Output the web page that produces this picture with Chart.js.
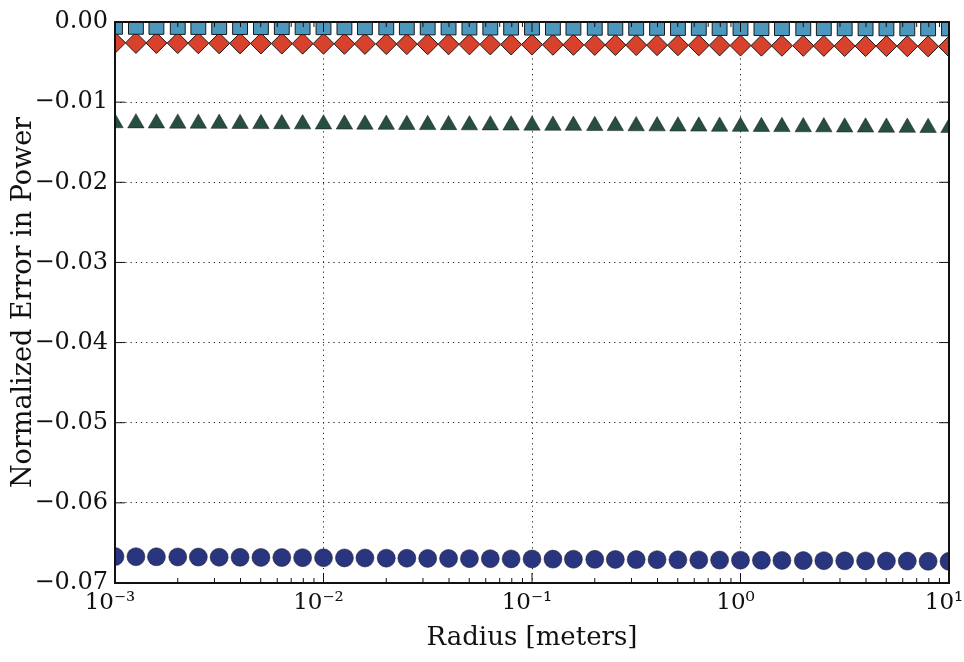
<!DOCTYPE html>
<html>
<head>
<meta charset="utf-8">
<script src="https://cdn.jsdelivr.net/npm/chart.js@4/dist/chart.umd.min.js"></script>
<style>
  html, body { margin: 0; padding: 0; background: #fff; overflow: hidden; }
  #wrap { width: 964px; height: 662px; position: relative; }
  canvas { display: block; }
</style>
</head>
<body>
<div id="wrap"><canvas id="err-chart"></canvas></div>
<script>
// radius in meters (10 points per decade)
const radius = [0.001,0.00126,0.00158,0.002,0.00251,0.00316,0.00398,0.00501,0.00631,0.00794,
  0.01,0.0126,0.0158,0.02,0.0251,0.0316,0.0398,0.0501,0.0631,0.0794,
  0.1,0.126,0.158,0.2,0.251,0.316,0.398,0.501,0.631,0.794,
  1,1.26,1.58,2,2.51,3.16,3.98,5.01,6.31,7.94,10];

const errSquares = [-0.00060,-0.00060,-0.00061,-0.00062,-0.00062,-0.00063,-0.00063,-0.00064,-0.00064,-0.00065,
  -0.00065,-0.00066,-0.00066,-0.00067,-0.00067,-0.00068,-0.00068,-0.00069,-0.00069,-0.00070,
  -0.00070,-0.00071,-0.00071,-0.00072,-0.00072,-0.00073,-0.00073,-0.00074,-0.00074,-0.00075,
  -0.00075,-0.00076,-0.00076,-0.00077,-0.00077,-0.00078,-0.00078,-0.00079,-0.00079,-0.00080,-0.00080];

const errDiamonds = [-0.00260,-0.00261,-0.00262,-0.00263,-0.00265,-0.00266,-0.00267,-0.00268,-0.00269,-0.00270,
  -0.00271,-0.00272,-0.00273,-0.00275,-0.00276,-0.00277,-0.00278,-0.00279,-0.00280,-0.00281,
  -0.00282,-0.00284,-0.00285,-0.00286,-0.00287,-0.00288,-0.00289,-0.00290,-0.00291,-0.00292,
  -0.00294,-0.00295,-0.00296,-0.00297,-0.00298,-0.00299,-0.00300,-0.00301,-0.00302,-0.00304,-0.00305];

const errTriangles = [-0.01260,-0.01262,-0.01263,-0.01265,-0.01266,-0.01268,-0.01269,-0.01271,-0.01272,-0.01274,
  -0.01275,-0.01277,-0.01278,-0.01280,-0.01281,-0.01283,-0.01284,-0.01286,-0.01287,-0.01289,
  -0.01290,-0.01292,-0.01293,-0.01295,-0.01296,-0.01298,-0.01299,-0.01301,-0.01302,-0.01304,
  -0.01305,-0.01307,-0.01308,-0.01310,-0.01311,-0.01313,-0.01314,-0.01316,-0.01317,-0.01319,-0.01320];

const errCircles = [-0.06670,-0.06672,-0.06673,-0.06675,-0.06676,-0.06678,-0.06679,-0.06681,-0.06682,-0.06684,
  -0.06685,-0.06687,-0.06688,-0.06690,-0.06691,-0.06693,-0.06694,-0.06696,-0.06697,-0.06699,
  -0.06700,-0.06702,-0.06703,-0.06705,-0.06706,-0.06708,-0.06709,-0.06711,-0.06712,-0.06714,
  -0.06715,-0.06717,-0.06718,-0.06720,-0.06721,-0.06723,-0.06724,-0.06726,-0.06727,-0.06729,-0.06730];

const xDecades = [0.001, 0.01, 0.1, 1, 10];
const xTickLabels = ["10\u207B\u00B3", "10\u207B\u00B2", "10\u207B\u00B9", "10\u2070", "10\u00B9"];
const yTicks = [0, -0.01, -0.02, -0.03, -0.04, -0.05, -0.06, -0.07];

const serif = "'DejaVu Serif', 'Liberation Serif', serif";

function pts(ys) {
  return radius.map((r, i) => ({ x: r, y: ys[i] }));
}

// inward ticks + frame, matplotlib style
const frameTicks = {
  id: 'frameTicks',
  afterDraw(chart) {
    const { ctx, chartArea: a, scales } = chart;
    const xs = scales.x, ys = scales.y;
    ctx.save();
    ctx.strokeStyle = '#111';
    ctx.lineWidth = 1;
    ctx.beginPath();
    xDecades.forEach((d, i) => {
      const px = xs.getPixelForValue(d);
      ctx.moveTo(px, a.bottom); ctx.lineTo(px, a.bottom - 10);
      ctx.moveTo(px, a.top); ctx.lineTo(px, a.top + 10);
      if (i < xDecades.length - 1) {
        for (let m = 2; m <= 9; m++) {
          const mx = xs.getPixelForValue(d * m);
          ctx.moveTo(mx, a.bottom); ctx.lineTo(mx, a.bottom - 5);
          ctx.moveTo(mx, a.top); ctx.lineTo(mx, a.top + 5);
        }
      }
    });
    yTicks.forEach(v => {
      const py = ys.getPixelForValue(v);
      ctx.moveTo(a.left, py); ctx.lineTo(a.left + 10, py);
      ctx.moveTo(a.right, py); ctx.lineTo(a.right - 10, py);
    });
    ctx.stroke();
    ctx.lineWidth = 2;
    ctx.strokeRect(a.left, a.top, a.right - a.left, a.bottom - a.top);
    ctx.restore();
  }
};

new Chart(document.getElementById('err-chart'), {
  type: 'scatter',
  data: {
    datasets: [
      {
        label: 'squares',
        data: pts(errSquares),
        pointStyle: 'rect',
        pointRadius: 10.5,
        backgroundColor: '#4b97bd',
        borderColor: '#1a1a1a',
        pointBorderWidth: 1
      },
      {
        label: 'diamonds',
        data: pts(errDiamonds),
        pointStyle: 'rectRot',
        pointRadius: 10.5,
        backgroundColor: '#d8412c',
        borderColor: '#1a1a1a',
        pointBorderWidth: 1
      },
      {
        label: 'triangles',
        data: pts(errTriangles),
        pointStyle: 'triangle',
        pointRadius: 9.5,
        backgroundColor: '#264f3f',
        borderColor: '#1a1a1a',
        pointBorderWidth: 0.5
      },
      {
        label: 'circles',
        data: pts(errCircles),
        pointStyle: 'circle',
        pointRadius: 9,
        backgroundColor: '#2a3580',
        borderColor: '#1a1a1a',
        pointBorderWidth: 0.5
      }
    ].map(d => Object.assign(d, { clip: 0, showLine: false, pointHoverRadius: d.pointRadius }))
  },
  options: {
    responsive: true,
    maintainAspectRatio: false,
    animation: false,
    layout: { autoPadding: false, padding: { top: 22, right: 15, left: 0, bottom: 0 } },
    plugins: { legend: { display: false }, tooltip: { enabled: false } },
    scales: {
      x: {
        type: 'logarithmic',
        min: 0.001,
        max: 10,
        afterBuildTicks: s => { s.ticks = xDecades.map(v => ({ value: v })); },
        afterFit: s => { s.height = 79; s.paddingLeft = 0; s.paddingRight = 0; },
        grid: { color: '#222', lineWidth: 1, drawTicks: false },
        border: { display: false, dash: [1.2, 4] },
        ticks: {
          padding: 6,
          labelOffset: -5,
          color: '#111',
          maxRotation: 0,
          autoSkip: false,
          font: { family: serif, size: 23 },
          callback: (v, i) => xTickLabels[i]
        },
        title: {
          display: true,
          text: 'Radius [meters]',
          color: '#111',
          font: { family: serif, size: 26 },
          padding: { top: 0, bottom: 8 }
        }
      },
      y: {
        min: -0.07,
        max: 0,
        afterBuildTicks: s => { s.ticks = yTicks.map(v => ({ value: v })); },
        afterFit: s => { s.width = 115; s.paddingTop = 0; s.paddingBottom = 0; },
        grid: {
          color: c => (c.tick && (c.tick.value === 0 || c.tick.value === -0.07)) ? 'rgba(0,0,0,0)' : '#222',
          lineWidth: 1,
          drawTicks: false
        },
        border: { display: false, dash: [1.2, 4] },
        ticks: {
          padding: 7,
          color: '#111',
          font: { family: serif, size: 24 },
          callback: v => (v === 0 ? '0.00' : '\u2212' + Math.abs(v).toFixed(2))
        },
        title: {
          display: true,
          text: 'Normalized Error in Power',
          color: '#111',
          font: { family: serif, size: 27 },
          padding: { top: 8, bottom: 0 }
        }
      }
    }
  },
  plugins: [frameTicks]
});
</script>
</body>
</html>
